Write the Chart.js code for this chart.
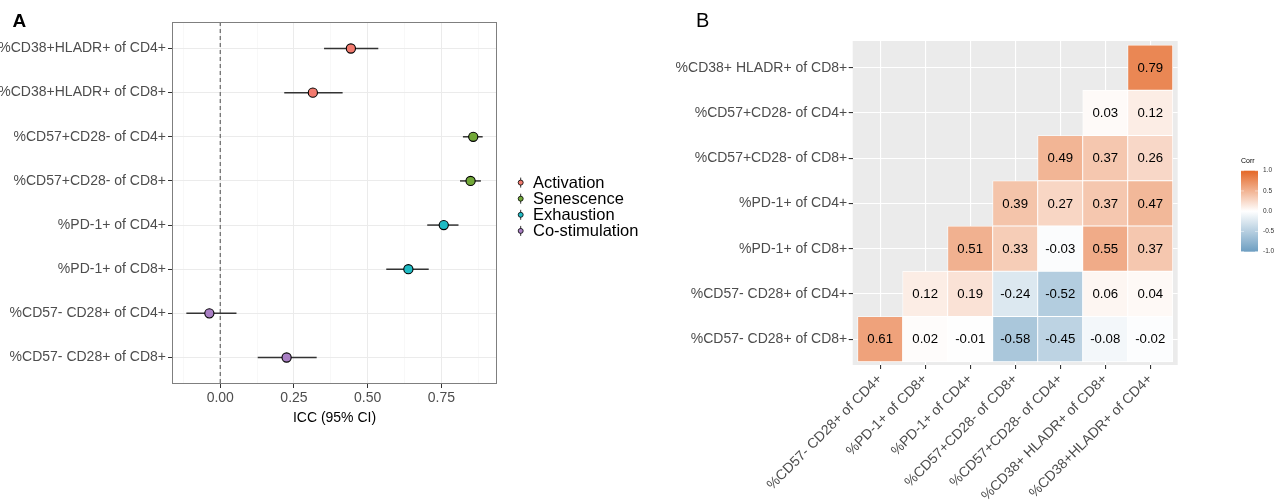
<!DOCTYPE html>
<html>
<head>
<meta charset="utf-8">
<script src="https://cdn.jsdelivr.net/npm/chart.js@4.4.1/dist/chart.umd.min.js"></script>
<style>
  body { margin: 0; background: #fff; }
  #wrap { position: relative; width: 1288px; height: 502px; }
  canvas { position: absolute; top: 0; }
  #iccChart { left: 0; }
  #corrChart { left: 660px; }
</style>
</head>
<body>
<div id="wrap">
  <canvas id="iccChart" width="660" height="502"></canvas>
  <canvas id="corrChart" width="628" height="502"></canvas>
</div>
<script>
// ---- panel A data ----
const markers = [
  '%CD38+HLADR+ of CD4+', '%CD38+HLADR+ of CD8+',
  '%CD57+CD28- of CD4+', '%CD57+CD28- of CD8+',
  '%PD-1+ of CD4+', '%PD-1+ of CD8+',
  '%CD57- CD28+ of CD4+', '%CD57- CD28+ of CD8+'
];
const markerGroup = ['Activation', 'Activation', 'Senescence', 'Senescence',
  'Exhaustion', 'Exhaustion', 'Co-stimulation', 'Co-stimulation'];
const icc = [0.443, 0.314, 0.858, 0.849, 0.758, 0.638, -0.037, 0.225];
const iccLow = [0.352, 0.217, 0.823, 0.813, 0.702, 0.563, -0.115, 0.127];
const iccHigh = [0.536, 0.415, 0.890, 0.884, 0.808, 0.707, 0.055, 0.327];
const groups = ['Activation', 'Senescence', 'Exhaustion', 'Co-stimulation'];
const groupColors = ['#F27A6E', '#72A838', '#1FBBC4', '#A97FC4'];
const iccTicks = [-0.125, 0, 0.125, 0.25, 0.375, 0.5, 0.625, 0.75, 0.875];

// ---- panel B data ----
const corrRows = [
  '%CD38+ HLADR+ of CD8+', '%CD57+CD28- of CD4+', '%CD57+CD28- of CD8+',
  '%PD-1+ of CD4+', '%PD-1+ of CD8+', '%CD57- CD28+ of CD4+', '%CD57- CD28+ of CD8+'
];
const corrCols = [
  '%CD57- CD28+ of CD4+', '%PD-1+ of CD8+', '%PD-1+ of CD4+', '%CD57+CD28- of CD8+',
  '%CD57+CD28- of CD4+', '%CD38+ HLADR+ of CD8+', '%CD38+HLADR+ of CD4+'
];
const corrValues = [
  [null, null, null, null, null, null, 0.79],
  [null, null, null, null, null, 0.03, 0.12],
  [null, null, null, null, 0.49, 0.37, 0.26],
  [null, null, null, 0.39, 0.27, 0.37, 0.47],
  [null, null, 0.51, 0.33, -0.03, 0.55, 0.37],
  [null, 0.12, 0.19, -0.24, -0.52, 0.06, 0.04],
  [0.61, 0.02, -0.01, -0.58, -0.45, -0.08, -0.02]
];
const corrLegendTicks = [1, 0.5, 0, -0.5, -1];

const FONT = '"Liberation Sans", Arial, sans-serif';
Chart.defaults.font.family = FONT;
Chart.defaults.color = '#4d4d4d';

const isMajor = v => Math.abs(v * 4 - Math.round(v * 4)) < 1e-6;

// frame, tag and legend of panel A
const iccFrame = {
  id: 'iccFrame',
  afterDraw(chart) {
    const { ctx, chartArea: a } = chart;
    ctx.save();
    ctx.strokeStyle = '#7f7f7f';
    ctx.lineWidth = 1;
    ctx.strokeRect(a.left + 0.5, a.top + 0.5, a.width - 1, a.height - 1);

    ctx.fillStyle = '#000';
    ctx.font = 'bold 19px ' + FONT;
    ctx.textBaseline = 'alphabetic';
    ctx.fillText('A', 12.5, 26.7);

    ctx.font = '16.5px ' + FONT;
    ctx.textBaseline = 'middle';
    groups.forEach((g, i) => {
      const y = 182.6 + i * 16.1;
      ctx.strokeStyle = '#333';
      ctx.lineWidth = 1;
      ctx.beginPath();
      ctx.moveTo(520.7, y - 5);
      ctx.lineTo(520.7, y + 5);
      ctx.stroke();
      ctx.beginPath();
      ctx.arc(520.7, y, 2.5, 0, 2 * Math.PI);
      ctx.fillStyle = groupColors[i];
      ctx.fill();
      ctx.lineWidth = 0.8;
      ctx.strokeStyle = '#000';
      ctx.stroke();
      ctx.fillStyle = '#000';
      ctx.fillText(g, 533, y + 0.5);
    });
    ctx.restore();
  }
};

new Chart(document.getElementById('iccChart'), {
  type: 'scatter',
  data: {
    datasets: [
      {
        type: 'scatter',
        data: icc.map((v, i) => ({ x: v, y: i })),
        pointRadius: 4.6,
        pointBackgroundColor: markerGroup.map(g => groupColors[groups.indexOf(g)]),
        pointBorderColor: '#000',
        pointBorderWidth: 1.1,
        order: 0
      },
      ...icc.map((_, i) => ({
        type: 'line',
        data: [{ x: iccLow[i], y: i }, { x: iccHigh[i], y: i }],
        borderColor: '#333',
        borderWidth: 1.5,
        pointRadius: 0,
        order: 1
      })),
      {
        type: 'line',
        data: [{ x: 0, y: -0.6 }, { x: 0, y: 7.6 }],
        borderColor: '#666',
        borderWidth: 1.2,
        borderDash: [4, 3],
        pointRadius: 0,
        order: 2
      }
    ]
  },
  options: {
    responsive: false,
    animation: false,
    devicePixelRatio: 1,
    layout: { padding: { left: 0, top: 22, right: 163, bottom: 75.6 } },
    plugins: { legend: { display: false }, tooltip: { enabled: false } },
    scales: {
      x: {
        type: 'linear',
        min: -0.1637,
        max: 0.9386,
        afterBuildTicks: s => { s.ticks = iccTicks.map(v => ({ value: v })); },
        afterFit: s => { s.height = 42.4; },
        ticks: {
          autoSkip: false,
          maxRotation: 0,
          padding: 2,
          color: '#4d4d4d',
          font: { size: 14 },
          callback: v => isMajor(v) ? v.toFixed(2) : ''
        },
        grid: {
          color: c => isMajor(c.tick.value) ? '#ebebeb' : '#f4f4f4',
          lineWidth: c => isMajor(c.tick.value) ? 1 : 0.6,
          tickColor: c => isMajor(c.tick.value) ? '#333' : 'rgba(0,0,0,0)',
          tickLength: 4
        },
        border: { display: false },
        title: { display: true, text: 'ICC (95% CI)', color: '#000', font: { size: 14 }, padding: 0 }
      },
      y: {
        type: 'linear',
        reverse: true,
        min: -0.6,
        max: 7.6,
        afterBuildTicks: s => { s.ticks = markers.map((_, i) => ({ value: i })); },
        afterFit: s => { s.width = 172; },
        ticks: {
          autoSkip: false,
          padding: 2,
          color: '#4d4d4d',
          font: { size: 14 },
          callback: v => markers[v]
        },
        grid: { color: '#ebebeb', tickColor: '#333', tickLength: 4 },
        border: { display: false }
      }
    }
  },
  plugins: [iccFrame]
});

// ---- panel B ----
function corrColor(v) {
  const end = v < 0 ? [109, 158, 193] : [228, 103, 38];
  const t = Math.abs(v);
  const c = end.map(e => Math.round(255 + (e - 255) * t));
  return `rgb(${c[0]},${c[1]},${c[2]})`;
}

const cells = [];
corrValues.forEach((row, r) => row.forEach((v, c) => {
  if (v !== null) cells.push({ x: c, y: [r - 0.5, r + 0.5], v: v });
}));

const corrDecor = {
  id: 'corrDecor',
  beforeDraw(chart) {
    const { ctx, chartArea: a } = chart;
    ctx.save();
    ctx.fillStyle = '#ebebeb';
    ctx.fillRect(a.left, a.top, a.width, a.height);
    ctx.restore();
  },
  afterDatasetsDraw(chart) {
    const { ctx } = chart;
    const meta = chart.getDatasetMeta(0);
    ctx.save();
    ctx.fillStyle = '#000';
    ctx.font = '13.2px ' + FONT;
    ctx.textAlign = 'center';
    ctx.textBaseline = 'middle';
    meta.data.forEach((el, i) => {
      const p = el.getProps(['x', 'y', 'base'], true);
      ctx.fillText(cells[i].v.toFixed(2), p.x, (p.y + p.base) / 2 + 0.5);
    });
    ctx.restore();
  },
  afterDraw(chart) {
    const { ctx } = chart;
    ctx.save();
    ctx.fillStyle = '#000';
    ctx.font = '20px ' + FONT;
    ctx.textBaseline = 'alphabetic';
    ctx.fillText('B', 36, 27.3);

    // colour bar legend
    const bx = 581, bw = 17, top = 170.7, bottom = 251.7;
    const grad = ctx.createLinearGradient(0, top, 0, bottom);
    grad.addColorStop(0, corrColor(1));
    grad.addColorStop(0.5, '#fff');
    grad.addColorStop(1, corrColor(-1));
    ctx.fillStyle = grad;
    ctx.fillRect(bx, top, bw, bottom - top);
    ctx.font = '7px ' + FONT;
    ctx.fillStyle = '#000';
    ctx.textBaseline = 'middle';
    ctx.fillText('Corr', bx, 161);
    ctx.fillStyle = '#333';
    ctx.font = '6.5px ' + FONT;
    corrLegendTicks.forEach(t => {
      const y = top + (1 - t) / 2 * (bottom - top);
      ctx.strokeStyle = 'rgba(255,255,255,0.8)';
      ctx.lineWidth = 0.6;
      ctx.beginPath();
      ctx.moveTo(bx, y); ctx.lineTo(bx + 3, y);
      ctx.moveTo(bx + bw - 3, y); ctx.lineTo(bx + bw, y);
      ctx.stroke();
      ctx.fillText(t.toFixed(1), bx + 22, y);
    });
    ctx.restore();
  }
};

new Chart(document.getElementById('corrChart'), {
  type: 'bar',
  data: {
    datasets: [{
      data: cells,
      backgroundColor: cells.map(c => corrColor(c.v)),
      borderColor: '#fff',
      borderWidth: 0.8,
      borderSkipped: false,
      barPercentage: 1,
      categoryPercentage: 1
    }]
  },
  options: {
    responsive: false,
    animation: false,
    devicePixelRatio: 1,
    layout: { padding: { left: 0, top: 41, right: 110.3, bottom: 0 } },
    plugins: { legend: { display: false }, tooltip: { enabled: false } },
    scales: {
      x: {
        type: 'linear',
        offset: false,
        min: -0.61,
        max: 6.61,
        afterBuildTicks: s => { s.ticks = corrCols.map((_, i) => ({ value: i })); },
        afterFit: s => { s.height = 137; },
        ticks: {
          autoSkip: false,
          minRotation: 45,
          maxRotation: 45,
          padding: 2,
          color: '#4d4d4d',
          font: { size: 14 },
          callback: v => corrCols[v]
        },
        grid: { offset: false, color: '#fff', lineWidth: 1.1, tickColor: '#333', tickLength: 4 },
        border: { display: false }
      },
      y: {
        type: 'linear',
        reverse: true,
        min: -0.59,
        max: 6.57,
        afterBuildTicks: s => { s.ticks = corrRows.map((_, i) => ({ value: i })); },
        afterFit: s => { s.width = 192.7; },
        ticks: {
          autoSkip: false,
          padding: 1.5,
          color: '#4d4d4d',
          font: { size: 14 },
          callback: v => corrRows[v]
        },
        grid: { color: '#fff', lineWidth: 1.1, tickColor: '#333', tickLength: 4 },
        border: { display: false }
      }
    }
  },
  plugins: [corrDecor]
});
</script>
</body>
</html>
